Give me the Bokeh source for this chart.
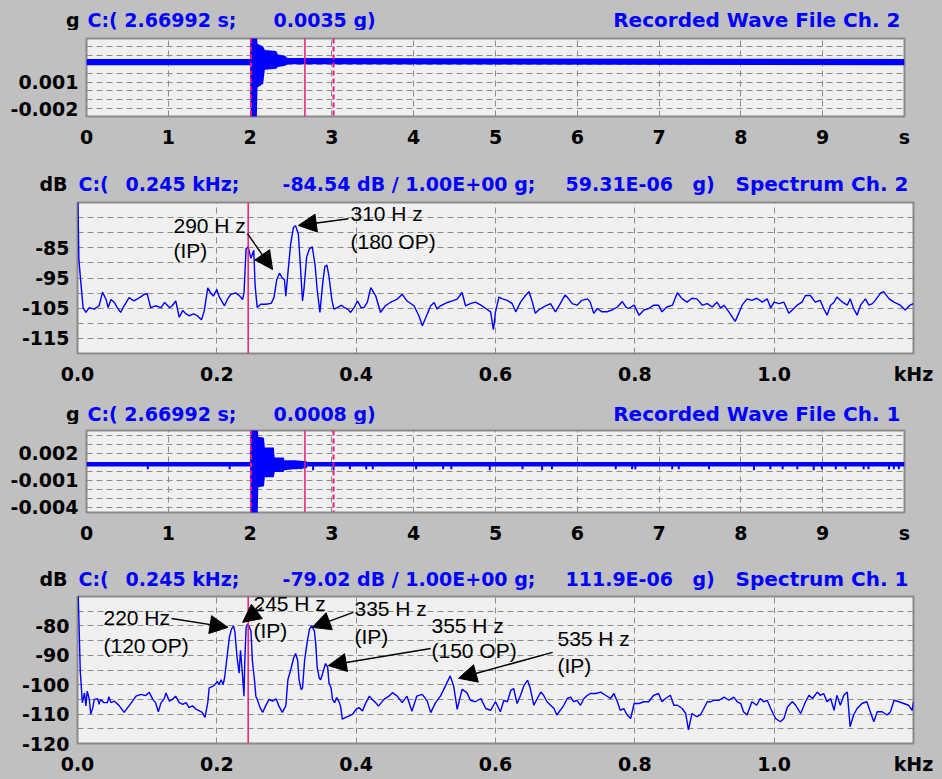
from bokeh.plotting import figure
from bokeh.models import (FixedTicker, CustomJSTickFormatter, Span, Arrow, NormalHead, ColumnDataSource)
from bokeh.core.properties import value
from bokeh.embed import file_html
from bokeh.resources import INLINE

# ---------------- data ----------------
# Recorded wave Ch. 2 (envelope of the trace, g)
WAVE2_T = [0.0, 2.00, 2.01, 2.08, 2.09, 2.16, 2.18, 2.32, 2.34, 2.42, 2.46, 10.0]
WAVE2_HI = [0.0036, 0.0036, 0.0070, 0.0070, 0.0053, 0.0050, 0.0046, 0.0045, 0.0041, 0.0040, 0.0037, 0.0036]
WAVE2_LO = [0.0029, 0.0029, -0.0040, -0.0040, 0.0004, 0.0008, 0.0024, 0.0025, 0.0027, 0.0028, 0.0030, 0.0029]

# Recorded wave Ch. 1 (envelope of the trace, g)
WAVE1_T = [0.0, 2.00, 2.01, 2.09, 2.10, 2.17, 2.18, 2.29, 2.30, 2.41, 2.42, 2.53, 2.54, 2.69, 2.70, 10.0]
WAVE1_HI = [0.0010, 0.0010, 0.0060, 0.0060, 0.0038, 0.0037, 0.0026, 0.0026, 0.0015, 0.0015, 0.0012, 0.0012, 0.0012, 0.0011, 0.0010, 0.0010]
WAVE1_LO = [0.0005, 0.0005, -0.0060, -0.0060, -0.0018, -0.0017, -0.0007, -0.0007, -0.0001, -0.0001, 0.0001, 0.0002, 0.0002, 0.0003, 0.0005, 0.0005]
# small downward spikes on the Ch. 1 trace (time s, tip g) from baseline level
WAVE1_BASE = 0.0007
SPIKE1_T = [0.75, 1.75, 2.57, 2.62, 2.77, 3.02, 3.22, 3.42, 3.50, 4.03, 4.36, 4.46, 4.93, 5.33, 5.57, 5.69,
            6.47, 6.67, 6.71, 7.16, 7.24, 7.61, 8.16, 8.36, 8.51, 8.69, 8.89, 8.99, 9.16, 9.28, 9.50, 9.56,
            9.81, 9.87, 9.93]
SPIKE1_TIP = [0.0002, 0.0002, 0.0002, 0.0002, 0.0001, 0.0001, 0.0002, 0.0002, 0.0002, 0.0002, 0.0002, 0.0002,
              0.0001, 0.0002, 0.0001, 0.0002, 0.0002, 0.0002, 0.0002, 0.0002, 0.0002, 0.0002, 0.0001, 0.0002,
              0.0002, 0.0002, 0.0001, 0.0002, 0.0002, 0.0002, 0.0002, 0.0002, 0.0002, 0.0002, 0.0002]

# Spectrum Ch. 2 (kHz, dB)
CH2_KHZ = [0.000, 0.002, 0.008, 0.012, 0.017, 0.024, 0.031, 0.036, 0.041, 0.044, 0.048, 0.053, 0.057, 0.062, 0.067,
           0.074, 0.081, 0.089, 0.096, 0.100, 0.105, 0.112, 0.120, 0.125, 0.132, 0.136, 0.141, 0.146, 0.151, 0.156,
           0.160, 0.167, 0.172, 0.178, 0.182, 0.187, 0.191, 0.195, 0.200, 0.203, 0.211, 0.215, 0.220, 0.227, 0.233,
           0.237, 0.239, 0.242, 0.245, 0.249, 0.253, 0.255, 0.258, 0.263, 0.270, 0.278, 0.282, 0.286, 0.290, 0.294,
           0.297, 0.299, 0.302, 0.306, 0.310, 0.313, 0.317, 0.320, 0.323, 0.325, 0.329, 0.333, 0.337, 0.341, 0.344,
           0.348, 0.352, 0.355, 0.358, 0.361, 0.365, 0.368, 0.373, 0.379, 0.383, 0.388, 0.392, 0.397, 0.402, 0.407,
           0.411, 0.416, 0.421, 0.428, 0.435, 0.442, 0.449, 0.459, 0.466, 0.473, 0.483, 0.490, 0.495, 0.500, 0.507,
           0.512, 0.516, 0.521, 0.531, 0.538, 0.545, 0.552, 0.557, 0.564, 0.571, 0.579, 0.586, 0.593, 0.597, 0.600,
           0.605, 0.610, 0.617, 0.624, 0.629, 0.636, 0.643, 0.648, 0.653, 0.657, 0.662, 0.669, 0.679, 0.686, 0.693,
           0.700, 0.705, 0.710, 0.717, 0.724, 0.732, 0.736, 0.741, 0.746, 0.753, 0.760, 0.767, 0.775, 0.782, 0.787,
           0.791, 0.799, 0.806, 0.813, 0.820, 0.827, 0.834, 0.839, 0.846, 0.854, 0.861, 0.868, 0.875, 0.882, 0.889,
           0.897, 0.904, 0.911, 0.918, 0.923, 0.928, 0.935, 0.944, 0.948, 0.954, 0.961, 0.968, 0.975, 0.983, 0.990,
           0.995, 1.000, 1.007, 1.014, 1.021, 1.026, 1.033, 1.040, 1.045, 1.052, 1.059, 1.066, 1.071, 1.076, 1.081,
           1.086, 1.090, 1.098, 1.105, 1.109, 1.114, 1.119, 1.124, 1.131, 1.136, 1.141, 1.145, 1.153, 1.157, 1.165,
           1.172, 1.181, 1.188, 1.195, 1.200]
CH2_DB = [-60.0, -89.1, -104.8, -106.4, -104.8, -105.3, -104.2, -99.7, -102.1, -104.8, -102.1, -103.1, -104.8, -106.4, -104.2,
          -101.5, -102.6, -101.5, -100.4, -100.2, -104.8, -104.2, -104.8, -103.1, -104.8, -104.2, -102.6, -108.0, -105.8, -106.9,
          -107.5, -106.9, -107.5, -108.8, -105.8, -98.3, -99.9, -101.0, -98.8, -101.0, -104.2, -102.1, -100.4, -99.9, -101.0,
          -102.1, -99.9, -85.3, -84.7, -88.5, -85.8, -97.7, -104.8, -103.7, -103.7, -103.4, -101.5, -95.6, -93.4, -95.0,
          -95.6, -101.0, -93.4, -83.7, -78.2, -77.7, -80.4, -91.2, -102.6, -98.8, -88.0, -85.3, -84.7, -90.7, -98.8,
          -106.4, -96.7, -91.2, -90.7, -94.5, -102.1, -105.3, -104.8, -104.0, -104.8, -105.3, -106.4, -104.8, -102.6, -104.8,
          -104.8, -103.1, -98.2, -100.9, -106.4, -104.2, -103.1, -102.0, -100.4, -102.6, -104.2, -107.5, -110.8, -108.1, -104.2,
          -103.1, -105.3, -104.2, -103.1, -102.6, -102.0, -99.8, -104.2, -103.5, -103.0, -104.0, -105.1, -106.2, -112.1, -106.2,
          -101.3, -101.9, -102.4, -103.5, -106.2, -103.0, -100.8, -99.5, -103.0, -106.7, -105.6, -104.6, -103.5, -106.2, -103.5,
          -100.6, -101.9, -103.5, -104.0, -102.4, -101.9, -103.0, -106.7, -105.1, -106.2, -106.2, -105.6, -104.6, -102.8, -104.6,
          -105.1, -104.0, -107.3, -105.6, -105.1, -104.0, -104.0, -106.2, -104.6, -104.0, -99.9, -101.9, -103.0, -101.7, -101.9,
          -104.0, -103.5, -104.6, -103.0, -104.9, -104.0, -106.2, -109.4, -107.3, -104.0, -101.9, -102.4, -101.7, -103.0, -101.9,
          -104.9, -103.0, -103.5, -103.0, -106.7, -105.6, -104.0, -103.0, -100.8, -100.8, -103.0, -102.4, -105.1, -107.3, -104.0,
          -103.0, -101.3, -103.0, -104.0, -101.9, -105.1, -107.3, -104.0, -101.9, -104.0, -103.5, -102.4, -99.9, -99.5, -101.9,
          -103.0, -104.0, -105.6, -104.0, -103.5]

# Spectrum Ch. 1 (kHz, dB)
CH1_KHZ = [0.000, 0.004, 0.007, 0.010, 0.012, 0.014, 0.017, 0.019, 0.022, 0.024, 0.029, 0.031, 0.033, 0.038, 0.043,
           0.045, 0.048, 0.053, 0.060, 0.067, 0.072, 0.079, 0.084, 0.091, 0.098, 0.103, 0.108, 0.112, 0.116, 0.120,
           0.124, 0.127, 0.132, 0.136, 0.141, 0.146, 0.151, 0.156, 0.160, 0.165, 0.170, 0.175, 0.179, 0.183, 0.187,
           0.189, 0.194, 0.197, 0.201, 0.203, 0.206, 0.209, 0.211, 0.213, 0.218, 0.221, 0.224, 0.226, 0.229, 0.232,
           0.234, 0.237, 0.239, 0.240, 0.242, 0.244, 0.246, 0.249, 0.251, 0.254, 0.256, 0.258, 0.262, 0.266, 0.270,
           0.275, 0.280, 0.285, 0.289, 0.294, 0.299, 0.302, 0.306, 0.310, 0.313, 0.316, 0.318, 0.321, 0.323, 0.326,
           0.330, 0.333, 0.336, 0.340, 0.342, 0.344, 0.347, 0.349, 0.352, 0.354, 0.356, 0.359, 0.361, 0.364, 0.366,
           0.369, 0.372, 0.376, 0.378, 0.380, 0.385, 0.390, 0.395, 0.400, 0.404, 0.409, 0.414, 0.419, 0.423, 0.428,
           0.432, 0.440, 0.447, 0.452, 0.459, 0.466, 0.473, 0.480, 0.487, 0.495, 0.502, 0.507, 0.514, 0.521, 0.528,
           0.535, 0.540, 0.545, 0.552, 0.559, 0.564, 0.571, 0.579, 0.586, 0.593, 0.600, 0.607, 0.612, 0.617, 0.622,
           0.626, 0.631, 0.636, 0.641, 0.646, 0.650, 0.655, 0.660, 0.665, 0.669, 0.674, 0.679, 0.684, 0.688, 0.693,
           0.698, 0.703, 0.708, 0.712, 0.717, 0.722, 0.727, 0.732, 0.736, 0.744, 0.751, 0.758, 0.765, 0.770, 0.775,
           0.779, 0.784, 0.789, 0.794, 0.799, 0.806, 0.813, 0.820, 0.827, 0.834, 0.839, 0.844, 0.851, 0.856, 0.861,
           0.868, 0.873, 0.877, 0.882, 0.889, 0.894, 0.899, 0.904, 0.909, 0.913, 0.921, 0.928, 0.935, 0.942, 0.947,
           0.952, 0.956, 0.961, 0.968, 0.975, 0.980, 0.985, 0.990, 0.995, 1.002, 1.009, 1.014, 1.019, 1.026, 1.031,
           1.038, 1.045, 1.050, 1.055, 1.062, 1.066, 1.071, 1.076, 1.081, 1.086, 1.090, 1.095, 1.100, 1.105, 1.109,
           1.114, 1.119, 1.126, 1.133, 1.138, 1.143, 1.148, 1.155, 1.162, 1.167, 1.172, 1.179, 1.186, 1.193, 1.198,
           1.200]
CH1_DB = [-60.0, -95.6, -106.1, -102.8, -107.2, -102.2, -105.0, -110.0, -107.8, -105.0, -104.8, -106.7, -105.0, -106.1, -106.1,
          -104.1, -106.1, -105.6, -107.2, -109.4, -107.8, -105.6, -103.9, -103.3, -103.7, -102.6, -105.0, -106.1, -109.2, -106.1,
          -105.0, -102.8, -105.6, -105.0, -103.9, -106.1, -106.7, -106.1, -107.8, -107.2, -108.3, -108.9, -109.4, -111.1, -106.1,
          -101.1, -100.6, -100.0, -98.9, -100.0, -98.3, -100.0, -97.8, -93.9, -83.9, -81.1, -80.0, -82.2, -90.6, -96.1,
          -88.3, -97.2, -103.9, -92.8, -80.6, -79.4, -80.0, -81.7, -91.7, -98.3, -103.9, -105.0, -107.8, -109.4, -107.2,
          -105.0, -105.6, -104.8, -107.2, -109.4, -107.2, -98.3, -95.0, -91.1, -89.4, -91.7, -98.3, -101.7, -101.1, -91.7,
          -85.0, -81.1, -80.0, -81.7, -86.1, -93.9, -97.8, -98.3, -96.1, -94.4, -92.8, -93.9, -99.4, -101.1, -105.0,
          -106.1, -104.4, -106.1, -107.8, -111.7, -111.1, -110.6, -110.0, -108.3, -107.8, -108.9, -106.1, -103.9, -105.0, -106.1,
          -107.3, -105.0, -103.9, -102.7, -103.9, -106.1, -103.9, -109.0, -103.9, -103.3, -105.6, -109.5, -106.1, -103.9, -100.5,
          -97.0, -100.5, -108.4, -101.6, -102.7, -105.3, -105.8, -104.7, -108.1, -108.7, -105.8, -109.2, -105.3, -105.8, -101.9,
          -101.3, -106.4, -103.6, -100.2, -98.5, -101.3, -107.0, -104.7, -102.5, -103.6, -105.8, -107.0, -108.1, -110.3, -108.7,
          -107.0, -104.7, -104.2, -105.8, -105.3, -107.0, -104.7, -103.6, -103.0, -103.0, -102.5, -103.6, -104.7, -103.0, -105.8,
          -108.7, -108.1, -110.3, -111.5, -106.4, -106.4, -105.8, -105.8, -103.6, -103.0, -105.8, -104.7, -103.6, -107.0, -107.0,
          -108.1, -109.8, -115.4, -109.8, -110.9, -110.3, -108.1, -105.8, -105.8, -105.3, -105.3, -104.2, -105.3, -104.2, -105.8,
          -106.4, -109.2, -110.3, -105.8, -107.0, -104.7, -105.8, -105.3, -108.1, -111.5, -112.6, -111.5, -107.6, -105.8, -107.0,
          -109.8, -105.8, -103.6, -104.7, -102.5, -103.6, -103.0, -105.8, -104.7, -108.7, -103.6, -107.0, -103.6, -102.5, -114.3,
          -110.3, -108.1, -106.4, -105.8, -109.2, -112.6, -109.2, -109.2, -110.3, -109.2, -105.3, -105.8, -106.4, -107.0, -108.7,
          -105.8]

# cursor / marker positions
WAVE_CURSOR_S = 2.66992
WAVE_MARKS_S = [2.01, 3.02]
SPEC_CURSOR_KHZ = 0.245

# tick definitions
WAVE_XTICKS = [0, 1, 2, 3, 4, 5, 6, 7, 8, 9, 10]
WAVE_XGRID = [1, 2, 3, 4, 5, 6, 7, 8, 9]
WAVE2_YTICKS = [-0.002, 0.001]
WAVE2_YGRID = [-0.002, -0.001, 0.0, 0.001, 0.002, 0.003, 0.004, 0.005]
WAVE1_YTICKS = [-0.004, -0.001, 0.002]
WAVE1_YGRID = [-0.004, -0.003, -0.002, -0.001, 0.0, 0.001, 0.002, 0.003, 0.004]
SPEC_XTICKS = [0.0, 0.2, 0.4, 0.6, 0.8, 1.0, 1.2]
SPEC_XGRID = [0.2, 0.4, 0.6, 0.8, 1.0]
SPEC2_YTICKS = [-115, -105, -95, -85]
SPEC1_YTICKS = [-120, -110, -100, -90, -80]
SPEC_YGRID = [-115, -110, -105, -100, -95, -90, -85, -80, -75]

# ---------------- styling ----------------
BG = "#c0c0c0"
FRAME_BG = "#f0f0f0"
BLUE = "#0000ff"
PINK = "#f0187a"
AX_FONT = "DejaVu Sans"
NOTE_FONT = "Liberation Sans"
W = 942

# panel geometry in page pixels: figure top/bottom, frame l, r, t, b
G1 = dict(top=30, bot=152, l=86, r=904, t=38, b=116, xr=(0, 10), yr=(-0.00287, 0.0059))
G2 = dict(top=196, bot=390, l=77, r=913, t=202, b=353, xr=(0, 1.2), yr=(-120, -70))
G3 = dict(top=424, bot=548, l=86, r=904, t=430, b=512, xr=(0, 10), yr=(-0.0046, 0.0045))
G4 = dict(top=590, bot=779, l=77, r=913, t=596, b=743, xr=(0, 1.2), yr=(-120, -70))
# header strips (page pixels top/bottom)
H1 = (0, 30)
H2 = (152, 196)
H3 = (390, 424)
H4 = (548, 590)


def to_data(g, px, py):
    x0, x1 = g["xr"]
    y0, y1 = g["yr"]
    x = x0 + (px - g["l"]) * (x1 - x0) / (g["r"] - g["l"])
    y = y1 - (py - g["t"]) * (y1 - y0) / (g["b"] - g["t"])
    return x, y


def make_fig(g, xticks, xgrid, yticks, ygrid, xfmt, yfmt):
    p = figure(width=W, height=g["bot"] - g["top"], x_range=g["xr"], y_range=g["yr"],
               min_border_left=g["l"], min_border_right=W - g["r"],
               min_border_top=g["t"] - g["top"], min_border_bottom=g["bot"] - g["b"],
               toolbar_location=None, output_backend="svg",
               background_fill_color=FRAME_BG, border_fill_color=BG)
    p.outline_line_color = "#8a8a8a"
    p.outline_line_width = 2
    for ax, ticks, fmt in ((p.xaxis[0], xticks, xfmt), (p.yaxis[0], yticks, yfmt)):
        ax.ticker = FixedTicker(ticks=ticks)
        ax.formatter = CustomJSTickFormatter(code=fmt)
        ax.axis_line_color = None
        ax.major_tick_line_color = None
        ax.minor_tick_line_color = None
        ax.major_tick_out = 0
        ax.major_tick_in = 0
        ax.major_label_text_font = AX_FONT
        ax.major_label_text_font_style = "bold"
        ax.major_label_text_font_size = "19px"
        ax.major_label_text_color = "black"
    p.xaxis[0].major_label_standoff = 9
    p.yaxis[0].major_label_standoff = 8
    p.xgrid[0].ticker = FixedTicker(ticks=xgrid)
    p.ygrid[0].ticker = FixedTicker(ticks=ygrid)
    for gr in (p.xgrid[0], p.ygrid[0]):
        gr.grid_line_color = "#8c8c8c"
        gr.grid_line_dash = "6 4"
        gr.grid_line_width = 1
    return p


def header(h, items):
    """A grey strip holding the title row; its ranges are page pixels."""
    top, bot = h
    p = figure(width=W, height=bot - top, x_range=(0, W), y_range=(bot, top),
               min_border_left=0, min_border_right=0, min_border_top=0, min_border_bottom=0,
               x_axis_type=None, y_axis_type=None, toolbar_location=None, output_backend="svg",
               background_fill_color=BG, border_fill_color=BG)
    p.outline_line_color = None
    p.grid.visible = False
    for txt, px, py, color, size, align in items:
        p.text(x=[px], y=[py], text=[txt], text_color=color, text_font=value(AX_FONT),
               text_font_style="bold", text_font_size=size, text_align=align, text_baseline="middle")
    return p


def notes(p, g, items):
    src = dict(x=[], y=[], text=[])
    for txt, px, py in items:
        x, y = to_data(g, px, py)
        src["x"].append(x)
        src["y"].append(y)
        src["text"].append(txt)
    p.text(x="x", y="y", text="text", source=ColumnDataSource(src), text_color="black",
           text_font=value(NOTE_FONT), text_font_size="21px", text_align="left", text_baseline="middle")


def arrow(p, x0, y0, x1, y1):
    p.add_layout(Arrow(end=NormalHead(size=18, fill_color="black", line_color="black"),
                       x_start=x0, y_start=y0, x_end=x1, y_end=y1,
                       line_color="black", line_width=1.5))


WAVE_XFMT = "return tick > 9.5 ? 's' : tick.toFixed(0);"
WAVE_YFMT = "return tick.toFixed(3);"
SPEC_XFMT = "return tick > 1.1 ? 'kHz' : tick.toFixed(1);"
SPEC_YFMT = "return tick.toFixed(0);"


def wave_panel(g, t, lo, hi, yticks, ygrid):
    p = make_fig(g, WAVE_XTICKS, WAVE_XGRID, yticks, ygrid, WAVE_XFMT, WAVE_YFMT)
    p.varea(x=t, y1=lo, y2=hi, fill_color=BLUE)
    for m in WAVE_MARKS_S:
        p.add_layout(Span(location=m, dimension="height", line_color=PINK, line_width=2, line_dash="5 3"))
    p.add_layout(Span(location=WAVE_CURSOR_S, dimension="height", line_color=PINK, line_width=1.5))
    return p


def wave_header(h, reading, name):
    y = h[1] - 11
    return header(h, [("g", 79, y, "black", "19px", "right"),
                      ("C:( 2.66992 s;", 87, y, BLUE, "19px", "left"),
                      (reading, 273, y, BLUE, "19px", "left"),
                      (name, 900, y, BLUE, "20px", "right")])


def spec_panel(g, khz, db, yticks):
    p = make_fig(g, SPEC_XTICKS, SPEC_XGRID, yticks, SPEC_YGRID, SPEC_XFMT, SPEC_YFMT)
    p.line(khz, db, line_color=BLUE, line_width=1.4)
    p.add_layout(Span(location=SPEC_CURSOR_KHZ, dimension="height", line_color=PINK, line_width=1.5))
    return p


def spec_header(h, y, reading, amp, name):
    return header(h, [("dB", 67, y, "black", "19px", "right"),
                      ("C:(", 78, y, BLUE, "19px", "left"),
                      ("0.245 kHz;", 125, y, BLUE, "19px", "left"),
                      (reading, 282, y, BLUE, "19px", "left"),
                      (amp, 565, y, BLUE, "19px", "left"),
                      ("g)", 692, y, BLUE, "19px", "left"),
                      (name, 908, y, BLUE, "20px", "right")])


h1 = wave_header(H1, "0.0035 g)", "Recorded Wave File Ch. 2")
p1 = wave_panel(G1, WAVE2_T, WAVE2_LO, WAVE2_HI, WAVE2_YTICKS, WAVE2_YGRID)
h2 = spec_header(H2, 183, "-84.54 dB / 1.00E+00 g;", "59.31E-06", "Spectrum Ch. 2")
p2 = spec_panel(G2, CH2_KHZ, CH2_DB, SPEC2_YTICKS)
h3 = wave_header(H3, "0.0008 g)", "Recorded Wave File Ch. 1")
p3 = wave_panel(G3, WAVE1_T, WAVE1_LO, WAVE1_HI, WAVE1_YTICKS, WAVE1_YGRID)
p3.segment(x0=SPIKE1_T, y0=[WAVE1_BASE] * len(SPIKE1_T), x1=SPIKE1_T, y1=SPIKE1_TIP,
           line_color=BLUE, line_width=2)
h4 = spec_header(H4, 578, "-79.02 dB / 1.00E+00 g;", "111.9E-06", "Spectrum Ch. 1")
p4 = spec_panel(G4, CH1_KHZ, CH1_DB, SPEC1_YTICKS)

# annotations on spectrum Ch. 2 (page pixel anchors)
notes(p2, G2, [("290 H z", 173, 225), ("(IP)", 173, 250), ("310 H z", 350, 213), ("(180 OP)", 350, 241)])
arrow(p2, 0.244, -80.3, 0.280, -92.2)
arrow(p2, 0.389, -75.4, 0.317, -77.6)

# annotations on spectrum Ch. 1
notes(p4, G4, [("220 Hz", 103, 617), ("(120 OP)", 103, 645), ("245 H z", 253, 603), ("(IP)", 253, 630),
               ("335 H z", 354, 608), ("(IP)", 354, 636), ("355 H z", 431, 625), ("(150 OP)", 431, 650),
               ("535 H z", 557, 638), ("(IP)", 557, 665)])
arrow(p4, 0.135, -77.5, 0.216, -80.5)
arrow(p4, 0.265, -73.7, 0.237, -78.8)
arrow(p4, 0.396, -75.4, 0.337, -80.5)
arrow(p4, 0.507, -87.7, 0.360, -93.5)
arrow(p4, 0.682, -89.0, 0.547, -97.8)

html = file_html([h1, p1, h2, p2, h3, p3, h4, p4], INLINE, title="Spectrum")
style = ("<style>html,body{margin:0 !important;padding:0 !important;background:#c0c0c0;overflow:hidden;}"
         "body>div{display:block;line-height:0;font-size:0;}</style>")
html = html.replace("</head>", style + "</head>", 1)
open("out.html", "w").write(html)
